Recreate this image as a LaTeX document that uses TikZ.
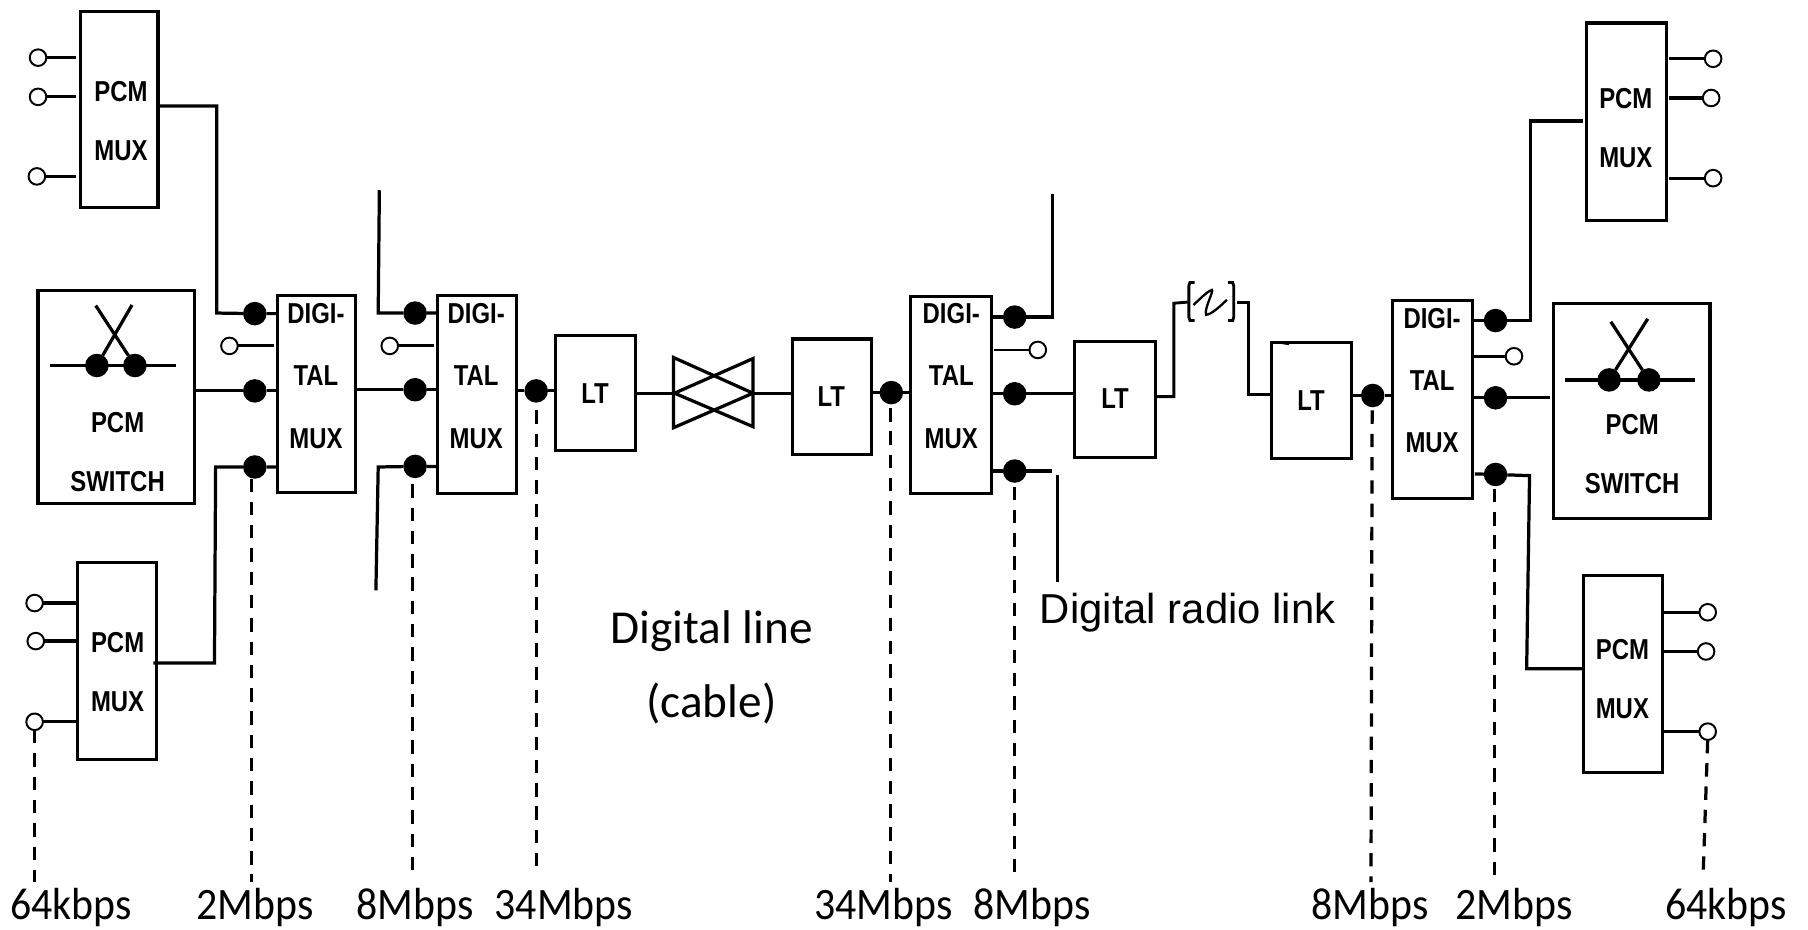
\documentclass[tikz,border=0pt]{standalone}
\usepackage{fontspec}
\setmainfont{Carlito}[Ligatures=CommonOff]
\newfontfamily\boldlbl{Liberation Sans}[BoldFont={Liberation Sans Bold}]
\newcommand{\bx}[5]{%
  \pgfmathsetmacro{\cxv}{(#2+#4)/2}\pgfmathsetmacro{\cyv}{(#3+#5)/2}%
  \pgfmathsetmacro{\wv}{(#4-#2)*0.5}\pgfmathsetmacro{\hv}{(#5-#3)*0.5}%
  \node[boxs,minimum width=\wv pt,minimum height=\hv pt] (#1) at (\cxv,\cyv) {};}
\tikzset{
  boxs/.style={draw=black,line width=1.35pt,inner sep=0pt,outer sep=0pt,fill=white},
  wire/.style={line width=1.4pt,line cap=butt,line join=miter},
  thin wire/.style={line width=1.25pt,line join=miter},
  dot/.style={circle,fill=black,draw=none,minimum width=9.4pt,minimum height=10.2pt,inner sep=0pt,outer sep=0pt},
  open/.style={circle,fill=white,draw=black,line width=0.85pt,minimum width=6.6pt,minimum height=7.2pt,inner sep=0pt,outer sep=0pt},
  dashline/.style={line width=1.4pt,dash pattern=on 5.8pt off 4.3pt},
  blbl/.style={font=\boldlbl\bfseries\fontsize{12.5}{25.5}\selectfont,align=center,inner sep=0pt,xscale=.83,transform shape},
  mlbl/.style={font=\boldlbl\bfseries\fontsize{12.5}{27}\selectfont,align=center,inner sep=0pt,xscale=.83,transform shape},
  ltlbl/.style={font=\boldlbl\bfseries\fontsize{12.5}{26}\selectfont,inner sep=0pt,xscale=.83,transform shape},
  rate/.style={font=\fontsize{19.5}{22}\selectfont,inner sep=0pt,anchor=base,xscale=.93,transform shape},
  note/.style={font=\fontsize{20.5}{22}\selectfont,inner sep=0pt,anchor=base},
  radio/.style={font=\boldlbl\fontsize{18.15}{20}\selectfont,inner sep=0pt,anchor=base},
}
\begin{document}
\begin{tikzpicture}[x=0.5pt,y=-0.5pt]
\useasboundingbox (0,0) rectangle (1568,805.7);

% --- boxes
\bx{pcmTL}{70}{10}{137}{180}
\bx{pcmBL}{67}{488}{136}{659}
\bx{swL}{33}{252}{169}{437}
\bx{muxA}{240.5}{256}{308.5}{427}
\bx{muxB}{379.5}{256}{448}{428}
\bx{ltA}{482}{291}{551}{391}
\bx{ltB}{687}{294}{756}{394.5}
\bx{muxC}{790}{257}{860}{428}
\bx{ltC}{932}{296}{1002}{397}
\bx{ltD}{1102.5}{297}{1172}{398}
\bx{muxD}{1208}{261}{1277}{432}
\bx{pcmTR}{1375.5}{20}{1445}{191}
\bx{swR}{1347}{263}{1483}{450}
\bx{pcmBR}{1373}{499}{1442}{670}

% --- box texts
\node[blbl] (tTL) at (105,105) {PCM\\MUX};
\node[blbl] (tBL) at (102,583) {PCM\\MUX};
\node[blbl] (tSL) at (102,392) {PCM\\SWITCH};
\node[mlbl] (tA) at (274,326) {DIGI-\\TAL\\MUX};
\node[mlbl] (tB) at (413,326) {DIGI-\\TAL\\MUX};
\node[ltlbl] (tLA) at (516,341) {LT};
\node[ltlbl] (tLB) at (721,344) {LT};
\node[mlbl] (tC) at (825,326) {DIGI-\\TAL\\MUX};
\node[ltlbl] (tLC) at (967,346) {LT};
\node[ltlbl] (tLD) at (1137,347) {LT};
\node[mlbl] (tD) at (1242,330) {DIGI-\\TAL\\MUX};
\node[blbl] (tTR) at (1410,111) {PCM\\MUX};
\node[blbl] (tSR) at (1415.5,393.5) {PCM\\SWITCH};
\node[blbl] (tBR) at (1407,589) {PCM\\MUX};

% --- named end points
\foreach \n/\x/\y in {
  a1/66/50,a2/66/84,a3/66/153,
  b1/66/523,b2/66/556,b3/66/626,
  c1/188/92,c2/188/271.5,
  d1/133/575,d2/186/575,d3/187/405,
  e1/329/165,e2/328/271.5,
  f1/326/512,f2/328/405,
  g1/238/300,g2/376/300,
  h1/862/303.5,h2/912.5/168,h3/912.5/275,
  i1/912/408.5,i2/917/412,i3/917/505,
  j1/1018/344,j2/1018/263,j3/1030/262,
  k1/1073/262,k2/1083/262,k3/1083/342,
  l1/1278/309,
  m1/1327.5/278,m2/1327.5/105,m3/1326/105,
  n1/1326.5/412.5,n2/1324/580,
  p1/1447.5/51,p2/1447.5/85,p3/1447.5/154.5,
  q1/1443/531,q2/1443/565,q3/1443/634.5,
  sl1/43/317,sl2/153/317,sl3/114.5/264.5,sl4/83/265,
  sr1/1357/329.5,sr2/1470/329.5,sr3/1429/276.5,sr4/1397/279,
  dA/30/765,dB/218/765,dC/358/760,dD/465/757,dE/772/765,dF/880/756,dG/1189/765,dH/1296/760,dI/1477/760,
  dB0/218/415,dC0/358/420,dD0/465/356,dE0/772/354,dF0/880/422,dG0/1190/356,dH0/1296/424,
  cabL/584/341,cabR/653/341}
  {\coordinate (\n) at (\x,\y);}

% --- dots and open terminals
\foreach \n/\x/\y in {
  A1/221/272,A2/221/339,A3/221/405,
  B1/360/271.5,B2/360/338,B3/360/404.5,
  Cc/465/339,Dd/773/340.5,
  E1/880/275,E2/880/341.5,E3/880/408.5,
  Ff/1190.5/343,
  G1/1297/278,G2/1297/345,G3/1297/411.5,
  SL1/84/317,SL2/117/317,SR1/1395.5/329.5,SR2/1430/329.5}
  {\node[dot] (\n) at (\x,\y) {};}
\foreach \n/\x/\y in {
  oa1/33/50,oa2/33/84,oa3/32/153,
  ob1/30/523,ob2/31/556,ob3/30/626,
  oA/199/300,oB/338/300,oC/900/303.5,oD/1313/309,
  oe1/1485.7/51,oe2/1484/85,oe3/1485.7/154.5,
  of1/1481/531,of2/1479.6/565,of3/1481/634.5}
  {\node[open] (\n) at (\x,\y) {};}

% --- leads to open terminals
\foreach \p/\q in {oa1/a1,oa2/a2,oa3/a3,ob1/b1,ob2/b2,ob3/b3,oe1/p1,oe2/p2,oe3/p3,of1/q1,of2/q2,of3/q3}
  \draw[wire] (\p) -- (\q);
\draw[thin wire] (oA) -- (g1);
\draw[thin wire] (oB) -- (g2);
\draw[thin wire] (oC) -- (h1);
\draw[thin wire] (oD) -- (l1);

% --- left side wiring
\draw[wire] (pcmTL.east |- c1) -- (c1) -- (c2) -- (A1) -- (A1 -| muxA.west);
\draw[wire] (d1) -- (d2) -- (d3) -- (A3) -- (A3 -| muxA.west);
\draw[wire] (swL.east |- A2) -- (A2) -- (A2 -| muxA.west);
\draw[wire] (muxA.east |- B2) -- (B2) -- (B2 -| muxB.west);
\draw[wire] (e1) -- (e2) -- (B1) -- (B1 -| muxB.west);
\draw[wire] (f1) -- (f2) -- (B3) -- (B3 -| muxB.west);
\draw[wire] (muxB.east |- Cc) -- (Cc) -- (Cc -| ltA.west);

% --- cable symbol
\draw[wire] (ltA.east |- cabL) -- (cabL);
\draw[wire] (cabR) -- (ltB.west |- cabR);
\draw[wire] (584,310) -- (584,371) -- (653,341) -- cycle;
\draw[wire] (653,311) -- (653,370) -- (585,341) -- cycle;

% --- middle
\draw[wire] (ltB.east |- Dd) -- (Dd) -- (Dd -| muxC.west);
\draw[wire] (muxC.east |- E1) -- (E1) -- (h3) -- (h2);
\draw[wire] (muxC.east |- E2) -- (E2) -- (ltC.west |- E2);
\draw[wire] (muxC.east |- E3) -- (E3) -- (i1);
\draw[wire] (i2) -- (i3);

% --- radio link
\draw[thin wire] (ltC.east |- j1) -- (j1) -- (j2) -- (j3);
\draw[thin wire] (1036,245) -- (1032,245) -- (1031,248) -- (1031,275) -- (1032,278) -- (1036,278);
\draw[thin wire] (1065,245) -- (1069,245) -- (1070,248) -- (1070,275) -- (1069,278) -- (1065,278);
\draw[line width=1pt] (1035,264.5) .. controls (1042,258) and (1048,252) .. (1051,251.5)
   .. controls (1053,252) and (1044,268) .. (1046,273)
   .. controls (1050,273) and (1058,266) .. (1064,260);
\draw[thin wire] (k1) -- (k2) -- (k3) -- (ltD.west |- k3);
\draw[wire] (1112,297) -- (1118,298);

% --- right side wiring
\draw[wire] (ltD.east |- Ff) -- (Ff) -- (Ff -| muxD.west);
\draw[wire] (muxD.east |- G1) -- (G1) -- (m1) -- (m2);
\draw[wire] (m3) -- (1372.5,105);
\draw[wire] (muxD.east |- G2) -- (G2) -- (1344,345);
\draw[wire] (1279,411) -- (G3) -- (n1) -- (n2) -- (n2 -| pcmBR.west);

% --- switch symbols
\draw[wire] (sl1) -- (sl2);
\draw[wire] (SL1) -- (sl3);
\draw[wire] (SL2) -- (sl4);
\draw[wire] (sr1) -- (sr2);
\draw[wire] (SR1) -- (sr3);
\draw[wire] (SR2) -- (sr4);

% --- dashed level lines
\draw[dashline] (ob3.south) -- (dA);
\draw[dashline] (dB0) -- (dB);
\draw[dashline] (dC0) -- (dC);
\draw[dashline] (dD0) -- (dD);
\draw[dashline] (dE0) -- (dE);
\draw[dashline] (dF0) -- (dF);
\draw[dashline] (dG0) -- (dG);
\draw[dashline] (dH0) -- (dH);
\draw[dashline] (of3.south) -- (dI);

% --- labels
\node[rate] (r1) at (61.5,797.5) {64kbps};
\node[rate] (r2) at (221,797.5) {2Mbps};
\node[rate] (r3) at (360,797.5) {8Mbps};
\node[rate] (r4) at (489,797.5) {34Mbps};
\node[rate] (r5) at (766,797.5) {34Mbps};
\node[rate] (r6) at (895,797.5) {8Mbps};
\node[rate] (r7) at (1188,797.5) {8Mbps};
\node[rate] (r8) at (1313,797.5) {2Mbps};
\node[rate] (r9) at (1497,797.5) {64kbps};
\node[note] (n1a) at (617,558) {Digital line};
\node[note] (n1b) at (617,622) {(cable)};
\node[radio] (n2t) at (1030,540.5) {Digital radio link};
\end{tikzpicture}
\end{document}
